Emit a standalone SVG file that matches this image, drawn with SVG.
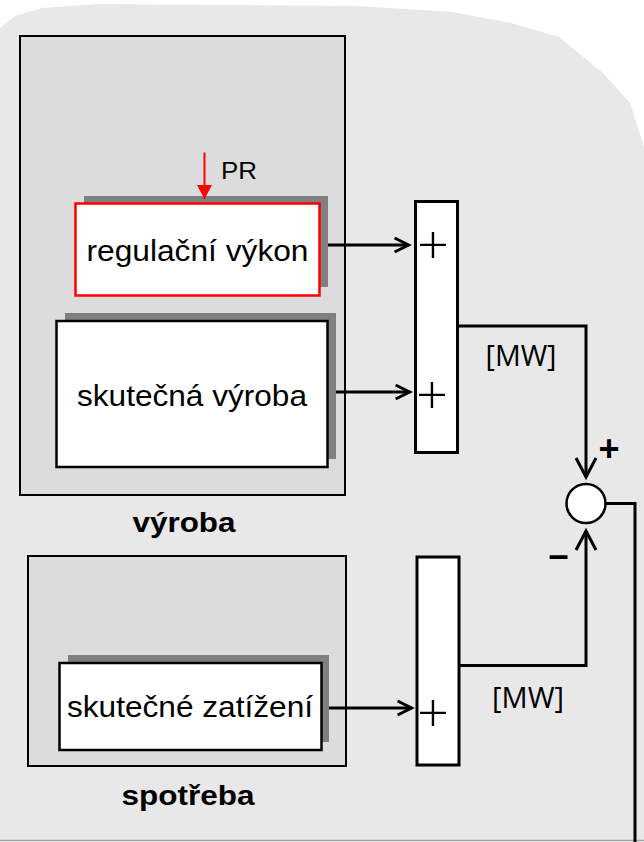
<svg xmlns="http://www.w3.org/2000/svg" width="644" height="842" viewBox="0 0 644 842">
<defs>
<style>
.grp{fill:#dcdcdc;stroke:#000;stroke-width:2}
.shadow{fill:#808080;stroke:none}
.box{fill:#fff;stroke:#000;stroke-width:2.5}
.sum{fill:#fff;stroke:#000;stroke-width:3}
.lbl{font-family:"Liberation Sans",Arial,sans-serif;font-size:29px;fill:#000;text-anchor:middle}
.bold{font-family:"Liberation Sans",Arial,sans-serif;font-size:28px;font-weight:bold;fill:#000;text-anchor:middle}
.thin{font-family:"Open Sans","DejaVu Sans",sans-serif;fill:#000;text-anchor:middle}
.conn{fill:none;stroke:#000;stroke-width:3}
</style>
<marker id="ah" markerUnits="userSpaceOnUse" viewBox="-18 -10 22 20" markerWidth="22" markerHeight="20" refX="0" refY="0" orient="auto" overflow="visible">
<path d="M-14,-7 L0,0 L-14,7" fill="none" stroke="#000" stroke-width="3"/>
</marker>
<marker id="ahL" markerUnits="userSpaceOnUse" viewBox="-22 -12 26 24" markerWidth="26" markerHeight="24" refX="0" refY="0" orient="auto" overflow="visible">
<path d="M-19,-10 L0,0 L-19,10" fill="none" stroke="#000" stroke-width="3"/>
</marker>
<marker id="ahR" markerUnits="userSpaceOnUse" viewBox="-15 -8 16 16" markerWidth="16" markerHeight="16" refX="0" refY="0" orient="auto" overflow="visible">
<path d="M-14,-7.5 L0,0 L-14,7.5 Z" fill="#f00" stroke="none"/>
</marker>
</defs>

<g id="background">
<polygon points="0,28 15,16 42,8 101,4 357,6 452,12 511,23 559,37 603,73 630,103 644,147 644,840 0,840" fill="#e8e8e8"/>
<line x1="0" y1="840.5" x2="644" y2="840.5" stroke="#a0a0a0" stroke-width="1.5"/>
</g>

<g id="vyroba">
<rect class="grp" x="20" y="36" width="325" height="459"/>
<text class="bold" x="184" y="532" textLength="103" lengthAdjust="spacingAndGlyphs">výroba</text>
</g>

<g id="spotreba">
<rect class="grp" x="28" y="556" width="318" height="210"/>
<text class="bold" x="188" y="805" textLength="133" lengthAdjust="spacingAndGlyphs">spotřeba</text>
</g>

<g id="regulacni-vykon">
<rect class="shadow" x="84" y="196" width="244" height="91"/>
<rect x="75.5" y="203.5" width="244" height="92" fill="#fff" stroke="#f00" stroke-width="2.5"/>
<text class="lbl" x="197.5" y="260.5" textLength="222" lengthAdjust="spacingAndGlyphs">regulační výkon</text>
</g>

<g id="pr">
<line x1="204.5" y1="152.5" x2="204.5" y2="199" stroke="#f00" stroke-width="2" marker-end="url(#ahR)"/>
<text font-family="Liberation Sans, Arial, sans-serif" font-size="24" x="221" y="179" textLength="36" lengthAdjust="spacingAndGlyphs">PR</text>
</g>

<g id="skutecna-vyroba">
<rect class="shadow" x="65" y="313" width="271" height="146"/>
<rect class="box" x="56.5" y="321" width="271" height="146"/>
<text class="lbl" x="192" y="406" textLength="230" lengthAdjust="spacingAndGlyphs">skutečná výroba</text>
</g>

<g id="skutecne-zatizeni">
<rect class="shadow" x="68" y="655" width="261" height="87"/>
<rect class="box" x="59.5" y="663" width="262" height="87"/>
<text class="lbl" x="190" y="716.5" textLength="246" lengthAdjust="spacingAndGlyphs">skutečné zatížení</text>
</g>

<g id="sum1">
<rect class="sum" x="415.5" y="201.5" width="42" height="251"/>
<text class="thin" font-weight="300" font-size="56" x="433" y="264">+</text>
<text class="thin" font-weight="300" font-size="56" x="432" y="414">+</text>
</g>

<g id="sum2">
<rect class="sum" x="417" y="557" width="42" height="208"/>
<text class="thin" font-weight="300" font-size="56" x="433" y="732">+</text>
</g>

<g id="comparator">
<circle cx="586" cy="503.5" r="19.5" fill="#fff" stroke="#000" stroke-width="2.5"/>
<text font-family="Liberation Sans, Arial, sans-serif" font-weight="bold" font-size="36" x="609" y="461" text-anchor="middle">+</text>
<text font-family="Liberation Sans, Arial, sans-serif" font-weight="bold" font-size="36" x="558.5" y="567" text-anchor="middle">–</text>
</g>

<g id="units">
<text class="thin" font-size="29" x="521" y="366" textLength="71" lengthAdjust="spacingAndGlyphs">[MW]</text>
<text class="thin" font-size="29" x="528" y="708" textLength="72" lengthAdjust="spacingAndGlyphs">[MW]</text>
</g>

<g id="connectors">
<line class="conn" x1="328" y1="245" x2="408.6" y2="245" marker-end="url(#ah)"/>
<line class="conn" x1="336" y1="392" x2="409.6" y2="392" marker-end="url(#ah)"/>
<line class="conn" x1="329" y1="708" x2="411.6" y2="708" marker-end="url(#ah)"/>
<path class="conn" d="M457,326 H586 V477" marker-end="url(#ahL)"/>
<path class="conn" d="M459,665.5 H586 V531" marker-end="url(#ahL)"/>
<path class="conn" d="M605.5,503.5 H635 V842"/>
</g>
</svg>
